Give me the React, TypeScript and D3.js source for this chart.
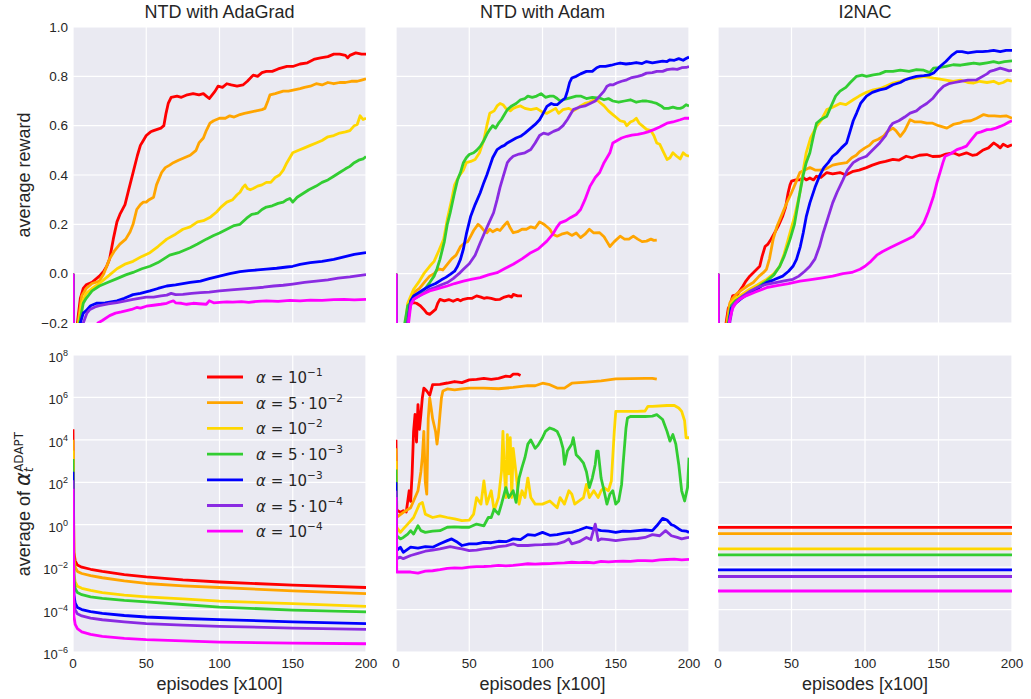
import React, { useRef, useEffect } from "react";
import * as d3 from "d3";

type Pt = [number, number];

// ---- labels / ticks ----
const panelTitles = ["NTD with AdaGrad", "NTD with Adam", "I2NAC"];
const episodeTicks = [0, 50, 100, 150, 200];
const rewardTicks = [-0.2, 0, 0.2, 0.4, 0.6, 0.8, 1.0];
const stepExpTicks = [-6, -4, -2, 0, 2, 4, 6, 8];
const alphaMantissas = ["", "5", "", "5", "", "5", ""];
const alphaExponents = [-1, -2, -2, -3, -3, -4, -4];
const seriesColors = ["#ff0000", "#ffa500", "#ffd700", "#32cd32", "#0000ff", "#8a2be2", "#ff00ff"];

// ---- average reward, [episode x100, reward] ----
const adagradReward: Pt[][] = [
  [[0,0],[0.4,-0.5],[3,-0.2],[5,-0.1],[7,-0.06],[9,-0.045],[13,-0.035],[18,-0.01],[21,0.01],[23,0.03],[25,0.06],[27.5,0.14],[30,0.21],[32,0.24],[35.5,0.28],[38,0.34],[41,0.41],[44,0.48],[46,0.52],[48,0.54],[50,0.56],[53,0.575],[55,0.58],[60,0.59],[62,0.6],[63.5,0.65],[65,0.69],[67,0.715],[71,0.72],[74,0.715],[78,0.725],[82,0.73],[86,0.725],[89,0.73],[91,0.72],[93,0.71],[95,0.725],[97,0.74],[99,0.76],[102,0.755],[105,0.77],[108,0.765],[112,0.76],[116,0.765],[119,0.78],[123,0.805],[126,0.8],[129,0.815],[132,0.82],[136,0.82],[140,0.83],[146,0.84],[150,0.84],[155,0.85],[160,0.855],[165,0.87],[169,0.875],[174,0.88],[178,0.89],[182,0.89],[186,0.885],[187.5,0.875],[189,0.885],[193,0.895],[197,0.89],[200,0.89]],
  [[0,0],[0.4,-0.5],[3.5,-0.2],[6,-0.09],[9,-0.06],[13,-0.04],[18,-0.03],[21,0.0],[25,0.06],[28,0.09],[32,0.12],[36,0.14],[39,0.17],[41,0.2],[43.5,0.26],[46,0.28],[48,0.29],[50,0.29],[52,0.3],[55,0.31],[57,0.36],[60.5,0.41],[63,0.43],[66,0.44],[68.5,0.45],[72,0.46],[76,0.47],[80,0.48],[84,0.5],[86,0.53],[89,0.55],[91,0.58],[93.5,0.61],[96,0.62],[100,0.63],[104,0.63],[107,0.64],[110,0.635],[114,0.645],[117,0.65],[121,0.655],[125,0.66],[129,0.665],[131,0.67],[133,0.7],[134.5,0.725],[138,0.73],[143.5,0.74],[147,0.74],[151,0.745],[155,0.75],[158,0.755],[162,0.76],[166,0.77],[170,0.765],[174,0.775],[178,0.77],[182,0.775],[186,0.775],[190,0.78],[194,0.78],[197,0.785],[200,0.79]],
  [[0,0],[0.4,-0.5],[4,-0.2],[6,-0.12],[9,-0.08],[13,-0.06],[18,-0.04],[24,-0.01],[30,0.02],[36,0.04],[41,0.05],[47,0.07],[52.5,0.085],[58,0.11],[64,0.14],[70,0.16],[75,0.18],[80,0.19],[85,0.21],[89,0.215],[94,0.23],[98,0.25],[101,0.27],[105,0.29],[109,0.3],[112,0.32],[114,0.33],[116,0.35],[117.5,0.36],[119,0.345],[121,0.34],[123,0.345],[126,0.355],[129,0.36],[132,0.37],[135,0.37],[138,0.39],[141,0.4],[143.5,0.42],[146,0.45],[148,0.47],[150,0.49],[154,0.5],[158,0.51],[162,0.52],[166,0.53],[170,0.54],[174,0.555],[178,0.56],[182,0.57],[186,0.575],[189,0.58],[192,0.6],[194,0.605],[196,0.64],[198,0.625],[200,0.63]],
  [[0,0],[0.4,-0.5],[4.5,-0.2],[7,-0.12],[9,-0.1],[13,-0.07],[18,-0.05],[24,-0.035],[30,-0.02],[36,-0.005],[41,0.005],[47,0.02],[52.5,0.03],[58,0.045],[62,0.06],[66,0.075],[72,0.085],[76,0.095],[80,0.105],[85,0.12],[91,0.14],[96,0.155],[100,0.165],[105,0.18],[110,0.195],[114,0.2],[118.5,0.225],[122,0.24],[126,0.245],[129,0.26],[132,0.27],[136,0.275],[140,0.285],[143.5,0.29],[146,0.3],[148,0.305],[150,0.29],[153,0.31],[157,0.325],[161,0.34],[166,0.355],[170,0.37],[174,0.38],[178,0.395],[182,0.41],[186,0.425],[189,0.435],[192,0.45],[195,0.46],[198,0.465],[200,0.475]],
  [[0,0],[0.4,-0.6],[5,-0.2],[7,-0.16],[9,-0.15],[12,-0.13],[16,-0.12],[22,-0.118],[30,-0.11],[35,-0.1],[41,-0.085],[46,-0.08],[52.5,-0.07],[58,-0.06],[64,-0.05],[70,-0.045],[75,-0.04],[80,-0.035],[87,-0.03],[93,-0.02],[100,-0.01],[107,0.0],[114,0.008],[120,0.012],[126,0.015],[132,0.018],[139,0.022],[146,0.027],[150,0.03],[155,0.038],[162,0.045],[170,0.05],[178,0.058],[185,0.068],[192,0.078],[200,0.085]],
  [[0,0],[0.4,-0.6],[7,-0.2],[9.5,-0.16],[11.6,-0.145],[15,-0.135],[18,-0.13],[24,-0.122],[30,-0.117],[36,-0.11],[41,-0.104],[45,-0.1],[50,-0.095],[55,-0.095],[60,-0.09],[64,-0.087],[67,-0.08],[70,-0.085],[75,-0.084],[81,-0.08],[87,-0.077],[93,-0.075],[100,-0.07],[110,-0.065],[121,-0.06],[130,-0.055],[137,-0.05],[143.5,-0.047],[150,-0.042],[158,-0.035],[166,-0.03],[174,-0.025],[181,-0.018],[189,-0.013],[195,-0.008],[200,-0.004]],
  [[0,0],[0.4,-0.6],[17,-0.2],[20,-0.19],[25,-0.17],[29,-0.16],[33,-0.155],[36.6,-0.15],[40,-0.145],[43.5,-0.137],[46,-0.14],[50,-0.132],[55,-0.128],[60,-0.124],[64,-0.12],[66,-0.115],[68.5,-0.11],[70,-0.118],[74,-0.12],[77.6,-0.124],[82,-0.12],[86,-0.122],[91,-0.124],[93,-0.11],[96,-0.118],[100,-0.116],[105,-0.114],[109,-0.115],[115,-0.113],[120,-0.116],[126,-0.112],[132,-0.11],[140,-0.112],[148,-0.108],[155,-0.11],[162,-0.107],[170,-0.108],[178,-0.105],[185,-0.104],[192,-0.106],[200,-0.104]],
];

const adamReward: Pt[][] = [
  [[0,0],[0.4,-0.5],[7.5,-0.2],[9,-0.14],[10,-0.12],[12,-0.117],[14,-0.12],[16.6,-0.13],[19,-0.145],[21,-0.16],[23,-0.165],[25,-0.155],[27,-0.145],[28.5,-0.12],[30,-0.104],[33,-0.11],[36,-0.105],[39,-0.112],[42,-0.104],[44,-0.11],[46,-0.104],[49,-0.1],[52,-0.1],[55,-0.09],[58,-0.095],[60,-0.1],[62,-0.097],[65,-0.1],[68,-0.105],[71,-0.104],[74,-0.095],[77,-0.09],[79,-0.095],[80,-0.084],[83,-0.09],[86,-0.09]],
  [[0,0],[0.4,-0.5],[7,-0.2],[9,-0.12],[12,-0.077],[16,-0.06],[20,-0.03],[23,-0.01],[26,0.0],[29,0.02],[32,0.015],[35,0.038],[38,0.06],[41,0.075],[44,0.11],[47,0.125],[49,0.13],[51,0.152],[53,0.175],[56,0.2],[58,0.19],[60,0.175],[62,0.166],[64,0.18],[66,0.17],[69,0.18],[71,0.175],[73,0.19],[76,0.21],[78,0.185],[80,0.166],[83,0.17],[86,0.18],[89,0.18],[92,0.19],[95,0.185],[98,0.21],[101,0.2],[103,0.19],[105,0.18],[107,0.16],[110,0.152],[113,0.16],[117,0.166],[120,0.155],[123,0.165],[126,0.146],[129,0.16],[132,0.18],[135,0.165],[139,0.166],[142,0.15],[144,0.13],[146,0.11],[149,0.13],[153,0.152],[156,0.14],[159,0.14],[162,0.152],[165,0.14],[168,0.13],[171,0.132],[174,0.14],[176,0.135],[178,0.136]],
  [[0,0],[0.4,-0.5],[6.5,-0.2],[8,-0.12],[12,-0.063],[16,-0.03],[19,0.0],[23,0.03],[26,0.05],[29,0.09],[32.5,0.139],[35,0.22],[38,0.3],[40,0.36],[43,0.395],[46,0.42],[48,0.45],[51,0.455],[54,0.463],[57,0.49],[60,0.543],[62,0.6],[64,0.65],[67,0.66],[69,0.68],[71,0.69],[73,0.685],[75,0.67],[78,0.66],[80,0.67],[82,0.675],[85,0.68],[88,0.67],[92,0.665],[96,0.67],[100,0.655],[103,0.65],[106,0.66],[109,0.67],[111,0.65],[114,0.665],[118,0.67],[121,0.66],[124,0.67],[126,0.68],[129,0.69],[132,0.695],[135,0.705],[138,0.7],[140,0.69],[142,0.68],[145,0.66],[148,0.645],[150,0.635],[153,0.62],[156,0.615],[157.5,0.6],[160,0.615],[162,0.62],[164,0.63],[166,0.61],[168,0.6],[171,0.585],[174,0.58],[176,0.56],[178,0.53],[180,0.525],[182,0.5],[185,0.463],[187,0.47],[189,0.49],[191.6,0.476],[194,0.465],[196,0.49],[198,0.48],[200,0.476]],
  [[0,0],[0.4,-0.5],[6,-0.2],[8,-0.13],[12,-0.104],[16,-0.08],[20,-0.06],[23,-0.036],[26,-0.01],[28,0.02],[30,0.058],[33,0.13],[35,0.2],[37,0.247],[40,0.33],[42,0.38],[44,0.41],[46,0.45],[48,0.47],[50,0.483],[53,0.49],[55,0.5],[57.5,0.516],[60,0.54],[62,0.565],[64,0.584],[66,0.6],[68,0.59],[70,0.61],[72,0.625],[74,0.645],[76,0.665],[79,0.68],[82,0.69],[85,0.705],[88,0.71],[90,0.72],[93,0.715],[96,0.72],[99,0.73],[102,0.715],[105,0.72],[107.5,0.72],[110,0.71],[112,0.7],[114,0.705],[117,0.71],[120,0.715],[123,0.72],[126,0.72],[130,0.71],[134,0.715],[139,0.712],[142,0.705],[145,0.71],[148,0.7],[152,0.695],[156,0.7],[160,0.705],[164,0.695],[168,0.7],[171,0.7],[175,0.695],[178,0.69],[181,0.68],[183,0.67],[186,0.67],[189,0.675],[192,0.67],[194,0.67],[196,0.675],[198,0.685],[200,0.68]],
  [[0,0],[0.4,-0.5],[8,-0.2],[10,-0.11],[12,-0.09],[16,-0.075],[20,-0.06],[23,-0.05],[27,-0.04],[31,-0.025],[34,-0.015],[37,-0.003],[40,0.01],[42,0.03],[44,0.058],[46,0.1],[48,0.16],[51,0.233],[54,0.28],[57.5,0.328],[60,0.37],[62,0.4],[64,0.435],[66,0.47],[69,0.503],[72,0.515],[74,0.52],[76,0.53],[79,0.54],[82,0.55],[85,0.557],[88,0.57],[90,0.58],[92,0.59],[95,0.605],[98,0.624],[100,0.645],[103,0.678],[106,0.69],[108,0.685],[110,0.685],[112,0.695],[115.5,0.712],[117,0.74],[118.5,0.775],[120,0.793],[123,0.8],[126,0.81],[130,0.82],[134,0.82],[137,0.835],[139,0.84],[143,0.84],[147,0.845],[150,0.85],[153,0.854],[157,0.85],[160,0.852],[164,0.856],[168,0.852],[171,0.86],[175,0.855],[178,0.858],[182,0.862],[185,0.86],[187,0.867],[190,0.865],[193,0.872],[196,0.865],[198,0.872],[200,0.878]],
  [[0,0],[0.4,-0.5],[8,-0.2],[10,-0.12],[12,-0.104],[16,-0.09],[20,-0.075],[23,-0.063],[27,-0.055],[31,-0.045],[35,-0.036],[39,-0.02],[43,0.0],[46,0.018],[50,0.04],[54,0.075],[57.5,0.125],[60,0.16],[63,0.2],[66.6,0.247],[69,0.3],[71,0.35],[73,0.39],[76,0.45],[78,0.465],[80,0.476],[84,0.485],[88,0.49],[92,0.503],[95,0.53],[98,0.56],[100.7,0.57],[104,0.565],[107.5,0.577],[111,0.585],[114,0.6],[117,0.625],[119,0.645],[121,0.665],[125,0.675],[129,0.68],[132.5,0.69],[136,0.7],[139,0.72],[142,0.74],[144,0.76],[146,0.766],[148,0.765],[150.7,0.773],[154,0.78],[157.5,0.786],[161,0.795],[165,0.8],[168,0.805],[171,0.813],[175,0.815],[178,0.82],[182,0.82],[185,0.827],[189,0.83],[192,0.828],[195,0.835],[198,0.836],[200,0.84]],
  [[0,0],[0.4,-0.5],[8.6,-0.2],[10,-0.13],[12,-0.104],[16,-0.09],[20,-0.078],[23,-0.07],[28,-0.062],[35,-0.05],[40,-0.04],[46,-0.03],[52,-0.022],[57.5,-0.016],[63,-0.005],[69,0.004],[74,0.02],[80,0.038],[86,0.06],[92,0.085],[97,0.1],[103,0.132],[107,0.16],[110,0.19],[112,0.206],[116,0.215],[119,0.227],[123,0.24],[126,0.26],[129,0.3],[132.5,0.355],[136,0.39],[139,0.41],[142,0.45],[146,0.49],[148,0.53],[151,0.54],[154,0.55],[157.5,0.557],[161,0.562],[165,0.565],[169,0.57],[172,0.575],[176,0.584],[180,0.595],[185,0.61],[189,0.615],[194,0.624],[197,0.63],[200,0.63]],
];

const i2nacReward: Pt[][] = [
  [[0,0],[0.4,-0.5],[5.5,-0.2],[7,-0.14],[8,-0.13],[10,-0.09],[13,-0.085],[17,-0.05],[19,-0.03],[21.6,-0.01],[25,0.01],[28.4,0.03],[30,0.07],[32,0.11],[34,0.12],[36,0.139],[38,0.16],[41,0.193],[44,0.233],[46,0.27],[47.7,0.328],[49,0.36],[50,0.375],[53,0.38],[55.7,0.38],[58,0.39],[60,0.38],[62.5,0.388],[65,0.38],[67,0.395],[70,0.39],[74,0.41],[78,0.405],[83,0.41],[87,0.4],[92,0.415],[96,0.42],[101,0.43],[105,0.44],[110,0.45],[114,0.455],[119,0.463],[123,0.46],[128,0.476],[132,0.47],[137,0.48],[142,0.483],[146,0.475],[151,0.476],[155,0.485],[160,0.49],[164,0.48],[169,0.49],[173,0.48],[176,0.483],[180,0.5],[184,0.51],[187.5,0.53],[190,0.52],[192,0.51],[194,0.525],[197,0.515],[200,0.523]],
  [[0,0],[0.4,-0.5],[6,-0.2],[8,-0.12],[10,-0.1],[13,-0.08],[17,-0.063],[20,-0.05],[24,-0.036],[28,-0.01],[31,0.005],[33,0.018],[35,0.06],[37.5,0.139],[40,0.19],[44,0.247],[47,0.29],[50,0.328],[53,0.37],[55.7,0.41],[59,0.42],[62.5,0.43],[66,0.42],[69,0.42],[71.6,0.422],[75,0.43],[78,0.44],[82,0.445],[87.5,0.45],[91,0.47],[94,0.48],[96.6,0.496],[100,0.51],[103,0.52],[105.7,0.537],[109,0.545],[112.5,0.557],[115,0.575],[119,0.59],[121,0.58],[124,0.557],[127,0.58],[130.7,0.624],[134,0.615],[138,0.615],[142,0.61],[146,0.61],[150,0.6],[155.7,0.59],[160,0.605],[164,0.61],[167,0.617],[172,0.62],[176,0.63],[180.7,0.645],[184,0.64],[188,0.64],[192,0.638],[196,0.64],[200,0.63]],
  [[0,0],[0.4,-0.5],[7,-0.2],[9,-0.12],[12,-0.1],[16,-0.085],[21.6,-0.063],[27,-0.045],[33,-0.023],[38,0.0],[42,0.03],[45,0.08],[49,0.166],[52,0.23],[55.7,0.328],[58,0.42],[60,0.49],[63,0.55],[67,0.597],[70,0.62],[74,0.665],[78,0.675],[83,0.69],[87,0.685],[92,0.705],[96,0.72],[101,0.735],[105.7,0.745],[110,0.75],[114,0.76],[119,0.773],[124,0.78],[129,0.79],[135,0.793],[140,0.8],[146.6,0.793],[150,0.79],[155,0.785],[160,0.78],[165,0.785],[170,0.775],[174,0.773],[178,0.78],[183,0.775],[187.5,0.78],[191,0.77],[194,0.775],[197,0.785],[200,0.78]],
  [[0,0],[0.4,-0.5],[7,-0.2],[9,-0.13],[12,-0.11],[16,-0.095],[21.6,-0.077],[27,-0.055],[33,-0.03],[38,-0.005],[42,0.03],[45,0.07],[49,0.139],[52,0.2],[55.7,0.328],[58,0.4],[60,0.45],[62.5,0.49],[65,0.56],[67,0.61],[70,0.625],[74,0.638],[77,0.68],[80,0.72],[83,0.74],[87,0.755],[90,0.775],[94.3,0.8],[98,0.805],[101,0.8],[105.7,0.806],[110,0.81],[114,0.82],[119,0.82],[124,0.825],[130,0.82],[135,0.827],[140,0.825],[144,0.815],[146.6,0.833],[150,0.835],[155,0.84],[160,0.847],[165,0.845],[170,0.85],[174,0.854],[178,0.85],[183,0.855],[187.5,0.86],[191,0.855],[195,0.86],[200,0.863]],
  [[0,0],[0.4,-0.5],[7.5,-0.2],[9,-0.14],[12,-0.12],[16,-0.1],[21,-0.08],[27,-0.06],[33,-0.036],[38,-0.025],[44,-0.01],[48,0.01],[51,0.03],[53.4,0.058],[56,0.11],[58,0.166],[60,0.23],[62.5,0.287],[66,0.35],[69,0.395],[72,0.43],[75,0.45],[78,0.476],[81,0.49],[84,0.51],[87.5,0.53],[90,0.58],[92,0.62],[94.3,0.651],[97,0.69],[101,0.72],[105,0.735],[110,0.745],[114,0.75],[119,0.766],[124,0.775],[127,0.785],[130.7,0.793],[135,0.8],[140,0.803],[144,0.806],[147,0.815],[151,0.84],[155,0.86],[159,0.885],[162.5,0.9],[166,0.9],[170,0.895],[176,0.9],[180,0.9],[184,0.902],[187.5,0.905],[192,0.9],[196,0.905],[200,0.905]],
  [[0,0],[0.4,-0.5],[8,-0.2],[10,-0.13],[13,-0.11],[17,-0.09],[22,-0.07],[27,-0.055],[33,-0.043],[40,-0.035],[46,-0.028],[51,-0.023],[55,-0.01],[59,0.01],[62.5,0.03],[66,0.06],[69,0.11],[71.6,0.166],[75,0.23],[78,0.287],[81,0.33],[85,0.38],[88,0.42],[92,0.45],[96,0.465],[101,0.476],[105,0.5],[110,0.53],[114,0.56],[117,0.595],[119,0.61],[123,0.62],[127,0.635],[130.7,0.651],[135,0.66],[138,0.675],[142,0.69],[146,0.71],[150,0.74],[153.4,0.76],[157,0.77],[161,0.775],[165,0.78],[170,0.785],[176,0.786],[180,0.8],[183,0.81],[185,0.82],[188,0.825],[192,0.833],[195,0.828],[198,0.822],[200,0.824]],
  [[0,0],[0.4,-0.5],[8,-0.185],[10,-0.14],[12,-0.12],[14.8,-0.104],[19,-0.09],[25,-0.075],[33,-0.057],[40,-0.048],[48,-0.04],[55.7,-0.03],[62,-0.025],[70,-0.018],[78,-0.01],[85,0.0],[91,0.005],[96.6,0.018],[100,0.03],[104,0.05],[108,0.075],[112,0.09],[117,0.105],[124,0.125],[129,0.14],[133,0.152],[137,0.18],[140,0.206],[143,0.25],[146.6,0.314],[149,0.37],[151,0.41],[153,0.45],[154.5,0.476],[158,0.485],[162.5,0.503],[166,0.51],[169,0.517],[172,0.54],[176,0.57],[179,0.575],[183,0.584],[186,0.585],[189,0.59],[192,0.597],[195,0.605],[198,0.615],[200,0.62]],
];

// ---- average adaptive step size, [episode x100, log10(value)] ----
const adagradStepLog10: Pt[][] = [
  [[0,4.5],[0.6,-1.3],[1.5,-1.7],[3,-1.9],[6,-2.0],[12,-2.1],[20,-2.2],[35,-2.35],[50,-2.46],[75,-2.6],[100,-2.7],[150,-2.85],[200,-2.96]],
  [[0,4.0],[0.6,-1.6],[1.5,-2.0],[3,-2.2],[6,-2.3],[12,-2.4],[20,-2.5],[35,-2.65],[50,-2.77],[75,-2.88],[100,-2.96],[150,-3.12],[200,-3.25]],
  [[0,3.5],[0.6,-2.3],[1.5,-2.7],[3,-2.9],[6,-3.0],[12,-3.1],[20,-3.2],[35,-3.32],[50,-3.4],[75,-3.5],[100,-3.6],[150,-3.72],[200,-3.85]],
  [[0,3.1],[0.6,-2.6],[1.5,-3.0],[3,-3.2],[6,-3.3],[12,-3.4],[20,-3.47],[35,-3.57],[50,-3.64],[75,-3.76],[100,-3.88],[150,-4.03],[200,-4.11]],
  [[0,2.5],[0.6,-3.3],[1.5,-3.7],[3,-3.9],[6,-4.0],[12,-4.1],[20,-4.18],[35,-4.28],[50,-4.35],[75,-4.42],[100,-4.47],[150,-4.58],[200,-4.66]],
  [[0,2.1],[0.6,-3.6],[1.5,-4.0],[3,-4.2],[6,-4.3],[12,-4.4],[20,-4.48],[35,-4.58],[50,-4.66],[75,-4.73],[100,-4.79],[150,-4.87],[200,-4.93]],
  [[0,1.7],[0.6,-4.3],[1.5,-4.7],[3,-4.9],[6,-5.05],[12,-5.17],[20,-5.26],[35,-5.36],[50,-5.42],[75,-5.48],[100,-5.53],[150,-5.58],[200,-5.61]],
];

const adamStepLog10: Pt[][] = [
  [[0,4.0],[0.5,0.7],[3,0.58],[5,0.66],[7,0.6],[8,1.1],[9,1.6],[10,1.1],[11,2.4],[12,4.4],[13,5.2],[14,3.9],[15,5.66],[16,4.5],[17,5.2],[18,6.0],[19,6.44],[21,6.3],[23,6.1],[25,6.6],[30,6.62],[35,6.68],[40,6.75],[45,6.7],[50,6.83],[55,6.85],[60,6.9],[65,6.85],[70,6.9],[75,7.0],[78,6.98],[80,7.1],[83,7.1],[85,7.03]],
  [[0,3.6],[0.5,0.35],[5,0.58],[10,0.8],[13,1.28],[15,1.6],[17,2.5],[18,3.2],[19,4.4],[20,2.0],[21,1.44],[22,5.0],[23,5.97],[24,5.5],[25,5.0],[26,4.7],[27,4.4],[28,3.8],[29,4.4],[30,5.2],[31,5.97],[32,6.3],[35,6.4],[40,6.36],[45,6.4],[50,6.44],[60,6.44],[70,6.41],[80,6.47],[90,6.56],[95,6.55],[100,6.67],[105,6.6],[110,6.44],[115,6.44],[120,6.67],[130,6.72],[140,6.78],[150,6.87],[160,6.89],[170,6.9],[175,6.9],[178,6.86]],
  [[0,3.0],[0.5,-0.12],[3,-0.36],[5,-0.2],[8,0.03],[12,0.34],[16,0.97],[18,1.05],[20,0.5],[25,0.34],[30,0.42],[35,0.34],[40,0.27],[45,0.19],[50,0.22],[53,0.5],[55,1.28],[58,0.97],[60,2.06],[62,0.97],[65,1.6],[67,0.66],[70,1.28],[72,2.5],[73,4.4],[74,2.5],[75,1.28],[76,4.25],[77,2.4],[78,4.1],[79,1.28],[80,3.6],[82,2.4],[84,0.97],[86,1.6],[88,1.28],[90,2.2],[92,1.28],[95,0.97],[100,0.97],[105,1.12],[110,0.8],[112,1.28],[115,0.97],[118,1.6],[120,1.44],[122,0.97],[125,1.12],[128,1.28],[130,1.9],[132,1.28],[135,1.6],[138,1.28],[140,1.6],[142,1.75],[145,1.6],[147,2.06],[149,4.4],[150,5.34],[155,5.34],[160,5.34],[165,5.34],[170,5.36],[172,5.58],[175,5.58],[185,5.62],[190,5.62],[193,5.5],[195,5.34],[197,4.9],[198,4.1],[200,4.1]],
  [[0,2.6],[0.5,-0.52],[3,-0.67],[5,-0.6],[8,-0.44],[10,-0.28],[12,-0.44],[15,-0.05],[17,-0.28],[20,-0.36],[25,-0.3],[30,-0.28],[35,-0.12],[40,-0.1],[45,-0.12],[50,-0.12],[55,0.03],[60,-0.05],[63,0.34],[65,0.34],[67,0.73],[70,0.5],[72,0.97],[75,1.75],[77,1.28],[80,1.6],[82,1.05],[84,2.2],[86,2.7],[88,3.16],[90,3.8],[92,4.0],[95,3.6],[97,3.75],[100,4.1],[102,4.4],[105,4.56],[108,4.48],[110,4.4],[112,4.1],[114,3.6],[115,2.84],[117,3.47],[120,3.8],[121,4.1],[123,3.3],[125,3.16],[128,2.9],[130,2.5],[132,1.75],[134,2.2],[136,2.84],[137,3.47],[138,3.47],[140,2.2],[142,1.6],[144,0.97],[146,1.44],[148,1.6],[150,0.97],[152,1.12],[154,1.9],[155,2.84],[157,4.56],[158,5.03],[160,5.1],[170,5.1],[175,5.12],[178,5.19],[182,4.96],[185,4.4],[187,3.94],[189,4.25],[191,3.8],[193,2.84],[195,1.6],[197,1.12],[199,1.75],[200,3.16]],
  [[0,2.0],[0.5,-1.22],[3,-1.06],[5,-1.3],[10,-1.06],[15,-1.1],[20,-1.03],[25,-1.06],[30,-0.9],[35,-0.75],[38,-0.67],[42,-0.83],[45,-0.98],[50,-0.9],[55,-0.9],[60,-0.83],[65,-0.85],[70,-0.78],[75,-0.8],[80,-0.67],[85,-0.7],[90,-0.47],[95,-0.5],[100,-0.36],[105,-0.5],[110,-0.47],[115,-0.4],[120,-0.36],[125,-0.25],[130,-0.12],[135,-0.2],[140,-0.28],[145,-0.3],[150,-0.36],[155,-0.3],[160,-0.31],[165,-0.28],[170,-0.25],[175,-0.28],[178,-0.05],[182,0.3],[185,0.22],[188,0.0],[190,-0.05],[193,-0.2],[195,-0.28],[198,-0.3],[200,-0.36]],
  [[0,1.6],[0.5,-1.6],[3,-1.53],[5,-1.6],[10,-1.45],[15,-1.35],[20,-1.25],[25,-1.2],[30,-1.14],[37,-1.03],[42,-1.1],[45,-1.14],[50,-1.22],[55,-1.2],[60,-1.14],[65,-1.1],[70,-1.03],[75,-1.0],[80,-0.9],[83,-0.98],[85,-0.98],[90,-0.98],[95,-0.95],[100,-0.94],[105,-0.92],[110,-0.9],[115,-0.8],[118,-0.67],[120,-0.9],[125,-0.8],[130,-0.6],[133,-0.7],[136,0.03],[138,-0.75],[140,-0.67],[145,-0.7],[150,-0.75],[155,-0.7],[160,-0.67],[165,-0.65],[170,-0.6],[175,-0.47],[180,-0.52],[184,-0.28],[188,-0.52],[192,-0.6],[195,-0.67],[198,-0.62],[200,-0.6]],
  [[0,1.3],[0.5,-2.23],[5,-2.23],[10,-2.23],[15,-2.28],[20,-2.19],[25,-2.17],[30,-2.12],[35,-2.06],[40,-2.03],[45,-2.05],[50,-2.0],[55,-1.98],[60,-1.97],[65,-1.95],[70,-1.92],[75,-1.94],[80,-1.92],[85,-1.88],[90,-1.84],[95,-1.86],[100,-1.84],[105,-1.83],[110,-1.81],[115,-1.8],[120,-1.77],[125,-1.79],[130,-1.77],[135,-1.8],[140,-1.73],[145,-1.75],[150,-1.73],[155,-1.72],[160,-1.73],[165,-1.69],[170,-1.69],[175,-1.7],[180,-1.66],[185,-1.64],[190,-1.62],[195,-1.66],[200,-1.63]],
];

const i2nacStepLog10: Pt[][] = [
  [[0,-0.125],[200,-0.125]],
  [[0,-0.42],[200,-0.42]],
  [[0,-1.14],[200,-1.14]],
  [[0,-1.42],[200,-1.42]],
  [[0,-2.125],[200,-2.125]],
  [[0,-2.44],[200,-2.44]],
  [[0,-3.125],[200,-3.125]],
];

const W = 1031;
const H = 699;
const colX = [[73, 366], [396, 689], [718, 1012]];
const rowY = [[27, 323], [355, 652]];
const FONT = "'Liberation Sans', Arial, Helvetica, sans-serif";
const MATH = "'DejaVu Sans', sans-serif";
const INK = "#262626";

const App: React.FC = () => {
  const ref = useRef<SVGSVGElement | null>(null);

  useEffect(() => {
    const svg = d3.select(ref.current);
    svg.selectAll("*").remove();

    const rewardPanels = [adagradReward, adamReward, i2nacReward];
    const stepPanels = [adagradStepLog10, adamStepLog10, i2nacStepLog10];
    const defs = svg.append("defs");

    for (let row = 0; row < 2; row++) {
      for (let col = 0; col < 3; col++) {
        const [x0, x1] = colX[col];
        const [y0, y1] = rowY[row];
        const x = d3.scaleLinear().domain([0, 200]).range([x0, x1]);
        const yLin = d3.scaleLinear().domain([-0.2, 1.0]).range([y1, y0]);
        const yLog = d3.scaleLog().domain([1e-6, 1e8]).range([y1, y0]);
        const yOf = (v: number) => (row === 0 ? yLin(v) : yLog(10 ** v));

        const clipId = `clip-${row}-${col}`;
        defs.append("clipPath").attr("id", clipId)
          .append("rect").attr("x", x0).attr("y", y0)
          .attr("width", x1 - x0).attr("height", y1 - y0);

        const g = svg.append("g");
        g.append("rect").attr("x", x0).attr("y", y0)
          .attr("width", x1 - x0).attr("height", y1 - y0).attr("fill", "#eaeaf2");

        // grid
        episodeTicks.forEach((t) => {
          g.append("line").attr("x1", x(t)).attr("x2", x(t)).attr("y1", y0).attr("y2", y1)
            .attr("stroke", "#fff").attr("stroke-width", 1.2);
        });
        const hTicks = row === 0 ? rewardTicks : stepExpTicks;
        hTicks.forEach((t) => {
          g.append("line").attr("x1", x0).attr("x2", x1).attr("y1", yOf(t)).attr("y2", yOf(t))
            .attr("stroke", "#fff").attr("stroke-width", 1.2);
        });

        // series
        const data = row === 0 ? rewardPanels[col] : stepPanels[col];
        const line = d3.line<Pt>().x((d) => x(d[0])).y((d) => yOf(d[1]));
        const lg = g.append("g").attr("clip-path", `url(#${clipId})`);
        data.forEach((s, i) => {
          lg.append("path").attr("d", line(s)!).attr("fill", "none")
            .attr("stroke", seriesColors[i]).attr("stroke-width", 2.8)
            .attr("stroke-linejoin", "round").attr("stroke-linecap", "butt");
        });

        if (row === 0) {
          svg.append("text").attr("x", (x0 + x1) / 2).attr("y", 18)
            .attr("text-anchor", "middle").attr("font-family", FONT)
            .attr("font-size", 18).attr("fill", INK).text(panelTitles[col]);
        } else {
          episodeTicks.forEach((t) => {
            svg.append("text").attr("x", x(t)).attr("y", 668)
              .attr("text-anchor", "middle").attr("font-family", FONT)
              .attr("font-size", 13.5).attr("fill", INK).text(String(t));
          });
          svg.append("text").attr("x", (x0 + x1) / 2).attr("y", 690)
            .attr("text-anchor", "middle").attr("font-family", FONT)
            .attr("font-size", 18).attr("fill", INK).text("episodes [x100]");
        }

        if (col === 0) {
          if (row === 0) {
            rewardTicks.forEach((t) => {
              svg.append("text").attr("x", 68).attr("y", yLin(t) + 4.7)
                .attr("text-anchor", "end").attr("font-family", FONT)
                .attr("font-size", 13.5).attr("fill", INK)
                .text(t < 0 ? "\u2212" + Math.abs(t).toFixed(1) : t.toFixed(1));
            });
          } else {
            stepExpTicks.forEach((t) => {
              const tx = svg.append("text").attr("x", 68).attr("y", yLog(10 ** t) + 7)
                .attr("text-anchor", "end").attr("font-family", FONT)
                .attr("font-size", 13).attr("fill", INK);
              tx.append("tspan").text("10");
              tx.append("tspan").attr("dy", -6).attr("font-size", 9)
                .text(t < 0 ? "\u2212" + Math.abs(t) : String(t));
            });
          }
        }
      }
    }

    // y labels
    svg.append("text").attr("transform", "translate(30,175) rotate(-90)")
      .attr("text-anchor", "middle").attr("font-family", FONT)
      .attr("font-size", 18).attr("fill", INK).text("average reward");

    const yl = svg.append("text").attr("transform", "translate(30,504) rotate(-90)")
      .attr("text-anchor", "middle").attr("font-family", FONT)
      .attr("font-size", 18).attr("fill", INK);
    yl.append("tspan").text("average of ");
    yl.append("tspan").attr("font-family", MATH).attr("font-style", "italic").attr("font-size", 21).text("\u03b1");
    yl.append("tspan").attr("font-family", MATH).attr("font-style", "italic").attr("font-size", 12.5).attr("dy", 3).text("t");
    yl.append("tspan").attr("font-family", MATH).attr("font-size", 12).attr("dx", -4.5).attr("dy", -10).text("ADAPT");

    // legend (bottom-left panel)
    const legendTop = 377;
    const legendStep = 25.7;
    seriesColors.forEach((c, i) => {
      const ly = legendTop + i * legendStep;
      svg.append("line").attr("x1", 207).attr("x2", 243).attr("y1", ly).attr("y2", ly)
        .attr("stroke", c).attr("stroke-width", 2.8);
      const t = svg.append("text").attr("x", 256).attr("y", ly + 6)
        .attr("font-family", MATH).attr("font-size", 15).attr("fill", INK);
      t.append("tspan").attr("font-style", "italic").text("\u03b1");
      const mant = alphaMantissas[i] ? `${alphaMantissas[i]}\u2009\u00b7\u200910` : "10";
      t.append("tspan").text(` = ${mant}`);
      t.append("tspan").attr("dy", -7).attr("font-size", 10.5)
        .text("\u2212" + Math.abs(alphaExponents[i]));
    });
  }, []);

  return (
    <svg
      ref={ref}
      width={W}
      height={H}
      style={{ position: "absolute", left: 0, top: 0, background: "#fff" }}
    />
  );
};

export default App;
